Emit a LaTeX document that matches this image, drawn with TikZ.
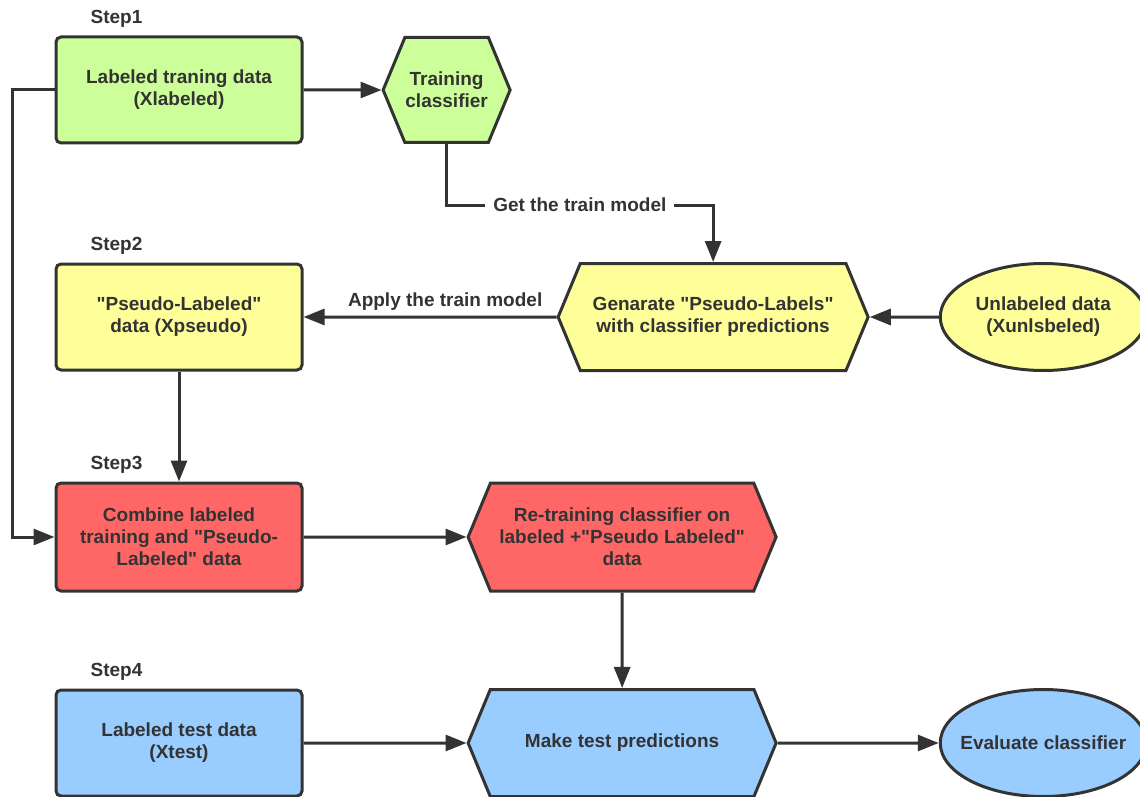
\documentclass[tikz,border=0pt]{standalone}
\usepackage{fontspec}
\setmainfont{Liberation Sans}[Ligatures=TeXOff]
\usetikzlibrary{shapes.geometric, shapes.symbols, arrows.meta, positioning}
\definecolor{linegray}{HTML}{333333}
\definecolor{greenfill}{HTML}{CCFF99}
\definecolor{yellowfill}{HTML}{FFFF99}
\definecolor{redfill}{HTML}{FF6666}
\definecolor{bluefill}{HTML}{99CCFF}

\begin{document}
\begin{tikzpicture}[
    x=1pt, y=1pt,
    font=\fontsize{19}{22}\selectfont\bfseries,
    text=linegray,
    box/.style={rectangle, rounded corners=5pt, draw=linegray, line width=3pt, minimum width=246pt, minimum height=106pt, align=center},
    hexa/.style={signal, signal to=west and east, signal pointer angle=135, draw=linegray, line width=3pt, minimum height=107pt, align=center},
    oval/.style={ellipse, draw=linegray, line width=3pt, inner xsep=-12pt, minimum width=206pt, minimum height=107pt, align=center},
    steplabel/.style={inner sep=0pt},
    arrow/.style={draw=linegray, line width=3pt, -{Triangle[length=21pt, width=16pt]}}
]
\useasboundingbox (0,0) rectangle (1140,-797);

% Nodes
\node (train) [box, fill=greenfill] at (179,-90) {Labeled traning data\\(Xlabeled)};
\node (classify) [hexa, fill=greenfill, inner xsep=0pt, minimum width=127pt, minimum height=105pt, right=78pt of train] {Training\\classifier};
\node (pseudo) [box, fill=yellowfill, below=118pt of train] {"Pseudo-Labeled"\\data (Xpseudo)};
\node (generate) [hexa, fill=yellowfill, minimum width=310pt, right=253pt of pseudo] {Genarate "Pseudo-Labels"\\with classifier predictions};
\node (unlabeled) [oval, fill=yellowfill, right=69pt of generate] {Unlabeled data\\(Xunlsbeled)};
\node (combine) [box, fill=redfill, minimum height=108pt, below=110pt of pseudo] {Combine labeled\\training and "Pseudo-\\Labeled" data};
\node (retrain) [hexa, fill=redfill, minimum width=308pt, minimum height=108pt, right=163pt of combine] {Re-training classifier on\\labeled +"Pseudo Labeled"\\data};
\node (test) [box, fill=bluefill, below=96pt of combine] {Labeled test data\\(Xtest)};
\node (predict) [hexa, fill=bluefill, minimum width=308pt, right=163pt of test] {Make test predictions};
\node (evaluate) [oval, fill=bluefill, right=161pt of predict] {Evaluate classifier};

% Step labels
\node (step1) [steplabel] at ([xshift=62pt, yshift=17pt]train.north west) {Step1};
\node (step2) [steplabel] at ([xshift=62pt, yshift=17pt]pseudo.north west) {Step2};
\node (step3) [steplabel] at ([xshift=62pt, yshift=17pt]combine.north west) {Step3};
\node (step4) [steplabel] at ([xshift=62pt, yshift=17pt]test.north west) {Step4};

% Arrows
\draw [arrow] (train) -- (classify);
\draw [arrow] (classify.south) -- ++(0,-61) -| node[pos=0.25, fill=white, inner xsep=8pt] {Get the train model} (generate.north);
\draw [arrow] (unlabeled) -- (generate);
\draw [arrow] (generate) -- node[above, pos=0.44, yshift=2pt] {Apply the train model} (pseudo);
\draw [arrow] (pseudo) -- (combine);
\draw [arrow] (train.west) -- ++(-42,0) |- (combine.west);
\draw [arrow] (combine) -- (retrain);
\draw [arrow] (retrain) -- (predict);
\draw [arrow] (test) -- (predict);
\draw [arrow] (predict) -- (evaluate);

\end{tikzpicture}
\end{document}
